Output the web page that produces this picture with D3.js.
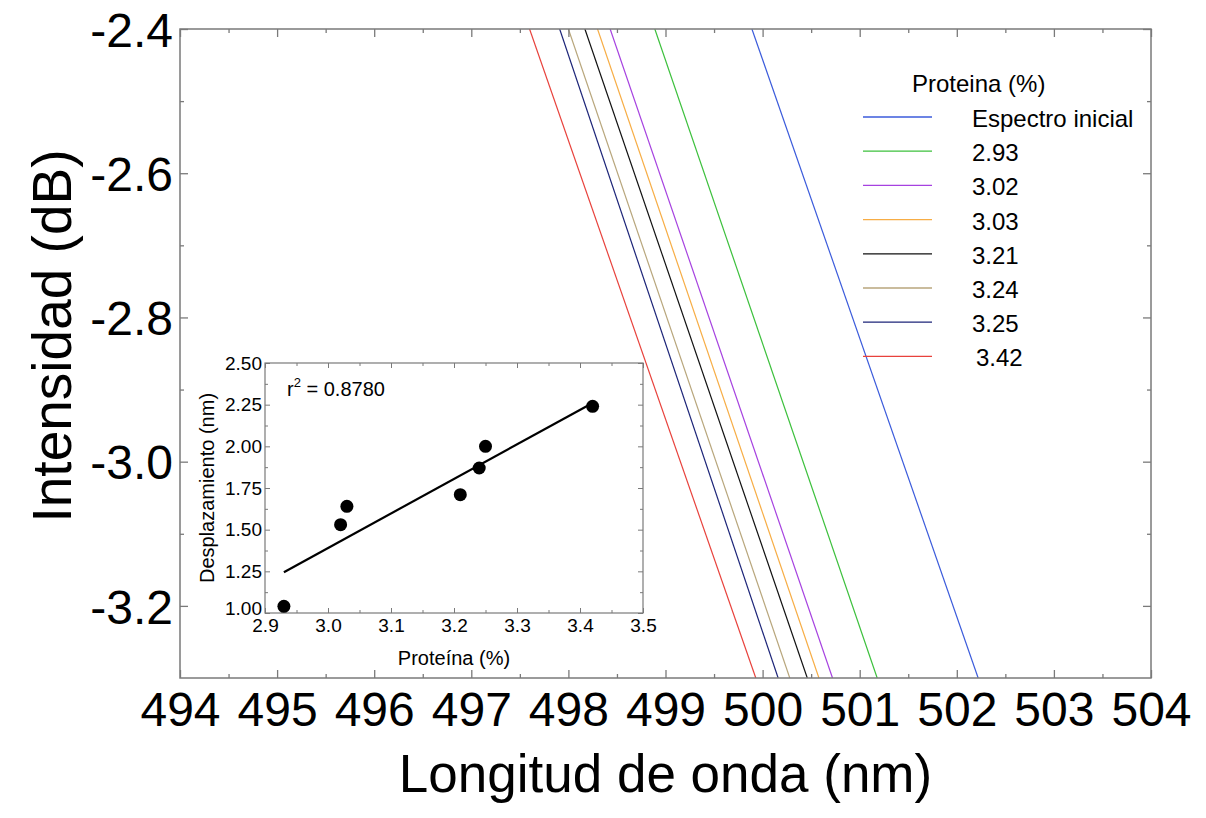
<!DOCTYPE html>
<html>
<head>
<meta charset="utf-8">
<script src="https://cdn.jsdelivr.net/npm/d3@7"></script>
<style>
  html, body { margin: 0; padding: 0; background: #fff; }
  svg { display: block; font-family: "Liberation Sans", Arial, Helvetica, sans-serif; }
</style>
</head>
<body>
<svg id="chart" width="1206" height="818"></svg>
<script>
// ---------------- data ----------------
const wavelengthTicks = [494, 495, 496, 497, 498, 499, 500, 501, 502, 503, 504];
const intensityTicks = [-2.4, -2.6, -2.8, -3.0, -3.2];
const intensityTickLabels = ["-2.4", "-2.6", "-2.8", "-3.0", "-3.2"];
const seriesNames = ["Espectro inicial", "2.93", "3.02", "3.03", "3.21", "3.24", "3.25", "3.42"];
const seriesColors = ["#3b5bdb", "#3cc03c", "#a642e0", "#f7ad45", "#111111", "#b8a67c", "#1c2478", "#e8423c"];
// intensity levels (dB) at which each spectrum edge was read
const intensityLevels = [-2.4, -3.3];
// wavelength (nm) of each spectrum at those intensity levels
const wavelengthAtTop    = [499.89, 498.89, 498.43, 498.30, 498.17, 498.00, 497.91, 497.60];
const wavelengthAtBottom = [502.22, 501.18, 500.72, 500.58, 500.46, 500.28, 500.16, 499.93];

// inset
const proteinTicks = [2.9, 3.0, 3.1, 3.2, 3.3, 3.4, 3.5];
const shiftTicks = [1.00, 1.25, 1.50, 1.75, 2.00, 2.25, 2.50];
const proteinValues = [2.93, 3.02, 3.03, 3.21, 3.24, 3.25, 3.42];
const shiftValues   = [1.04, 1.53, 1.64, 1.71, 1.87, 2.00, 2.24];
const fitProtein = [2.93, 3.42];
const fitShift   = [1.245, 2.26];
const r2Label = "0.8780";

// ---------------- layout ----------------
const svg = d3.select("#chart");
const M = { left: 180, right: 1151, top: 29, bottom: 678 };
const x = d3.scaleLinear().domain([494, 504]).range([M.left, M.right]);
const y = d3.scaleLinear().domain([-3.3, -2.4]).range([M.bottom, M.top]);
const frameColor = "#7a7a7a";
const FONT = "Liberation Sans, Arial, sans-serif";

// clip
svg.append("defs").append("clipPath").attr("id", "plotClip")
  .append("rect").attr("x", M.left).attr("y", M.top)
  .attr("width", M.right - M.left).attr("height", M.bottom - M.top);

// spectra lines
const series = seriesNames.map((name, i) => ({
  name, color: seriesColors[i],
  points: [[wavelengthAtTop[i], intensityLevels[0]], [wavelengthAtBottom[i], intensityLevels[1]]]
}));
const line = d3.line().x(d => x(d[0])).y(d => y(d[1]));
svg.append("g").attr("clip-path", "url(#plotClip)")
  .selectAll("path").data(series).join("path")
  .attr("d", d => line(d.points))
  .attr("fill", "none").attr("stroke", d => d.color).attr("stroke-width", 1.2);

// axes helper
function styleAxis(g) {
  g.select(".domain").remove();
  g.selectAll(".tick line").attr("stroke", frameColor).attr("stroke-width", 1.3);
}
const minorX = d3.range(494.5, 504, 1);
const minorY = [-2.5, -2.7, -2.9, -3.1];

// bottom axis
const gxB = svg.append("g").attr("transform", `translate(0,${M.bottom})`)
  .call(d3.axisBottom(x).tickValues(wavelengthTicks).tickSize(-8).tickPadding(14).tickFormat(d3.format("d")));
styleAxis(gxB);
gxB.selectAll("text").attr("font-size", 48).attr("fill", "#000").attr("font-family", FONT);
svg.append("g").attr("transform", `translate(0,${M.bottom})`)
  .call(d3.axisBottom(x).tickValues(minorX).tickSize(-4).tickFormat("")).call(styleAxis);
// top axis
svg.append("g").attr("transform", `translate(0,${M.top})`)
  .call(d3.axisTop(x).tickValues(wavelengthTicks).tickSize(-8).tickFormat("")).call(styleAxis);
svg.append("g").attr("transform", `translate(0,${M.top})`)
  .call(d3.axisTop(x).tickValues(minorX).tickSize(-4).tickFormat("")).call(styleAxis);
// left axis
const gyL = svg.append("g").attr("transform", `translate(${M.left},0)`)
  .call(d3.axisLeft(y).tickValues(intensityTicks).tickSize(-8).tickPadding(7)
    .tickFormat((d, i) => intensityTickLabels[i]));
styleAxis(gyL);
gyL.selectAll("text").attr("font-size", 48).attr("fill", "#000").attr("dy", "0.36em")
  .attr("font-family", FONT);
svg.append("g").attr("transform", `translate(${M.left},0)`)
  .call(d3.axisLeft(y).tickValues(minorY).tickSize(-4).tickFormat("")).call(styleAxis);
// right axis
svg.append("g").attr("transform", `translate(${M.right},0)`)
  .call(d3.axisRight(y).tickValues(intensityTicks).tickSize(-8).tickFormat("")).call(styleAxis);
svg.append("g").attr("transform", `translate(${M.right},0)`)
  .call(d3.axisRight(y).tickValues(minorY).tickSize(-4).tickFormat("")).call(styleAxis);

// frame
svg.append("rect").attr("x", M.left).attr("y", M.top)
  .attr("width", M.right - M.left).attr("height", M.bottom - M.top)
  .attr("fill", "none").attr("stroke", frameColor).attr("stroke-width", 1.5);

// axis titles
svg.append("text").attr("x", (M.left + M.right) / 2).attr("y", 792)
  .attr("text-anchor", "middle").attr("font-size", 53).text("Longitud de onda (nm)");
svg.append("text").attr("transform", `translate(71,336) rotate(-90)`)
  .attr("text-anchor", "middle").attr("font-size", 55).text("Intensidad (dB)");

// legend
const legend = svg.append("g");
legend.append("text").attr("x", 912).attr("y", 92).attr("font-size", 24).text("Proteina (%)");
const legY = i => 117 + i * 34.2;
legend.selectAll("line.leg").data(series).join("line").attr("class", "leg")
  .attr("x1", 863).attr("x2", 932).attr("y1", (d, i) => legY(i)).attr("y2", (d, i) => legY(i))
  .attr("stroke", d => d.color).attr("stroke-width", 1.3);
legend.selectAll("text.leg").data(series).join("text").attr("class", "leg")
  .attr("x", (d, i) => i === 7 ? 976 : 972).attr("y", (d, i) => legY(i) + 10)
  .attr("font-size", 24).text(d => d.name);

// ---------------- inset ----------------
const I = { left: 265, right: 643, top: 363, bottom: 613 };
const xi = d3.scaleLinear().domain([2.9, 3.5]).range([I.left, I.right]);
const yi = d3.scaleLinear().domain([1.0, 2.5]).range([I.bottom, I.top]);
const inset = svg.append("g");
inset.append("rect").attr("x", I.left).attr("y", I.top)
  .attr("width", I.right - I.left).attr("height", I.bottom - I.top).attr("fill", "#fff");
const minorXi = [2.95, 3.05, 3.15, 3.25, 3.35, 3.45];
const minorYi = [1.125, 1.375, 1.625, 1.875, 2.125, 2.375];
function styleInset(g) {
  g.select(".domain").remove();
  g.selectAll(".tick line").attr("stroke", frameColor).attr("stroke-width", 1);
}
const gxi = inset.append("g").attr("transform", `translate(0,${I.bottom})`)
  .call(d3.axisBottom(xi).tickValues(proteinTicks).tickSize(-5).tickPadding(6).tickFormat(d3.format(".1f")));
styleInset(gxi);
gxi.selectAll("text").attr("font-size", 19).attr("fill", "#000").attr("font-family", FONT);
inset.append("g").attr("transform", `translate(0,${I.bottom})`)
  .call(d3.axisBottom(xi).tickValues(minorXi).tickSize(-3).tickFormat("")).call(styleInset);
inset.append("g").attr("transform", `translate(0,${I.top})`)
  .call(d3.axisTop(xi).tickValues(proteinTicks).tickSize(-5).tickFormat("")).call(styleInset);
inset.append("g").attr("transform", `translate(0,${I.top})`)
  .call(d3.axisTop(xi).tickValues(minorXi).tickSize(-3).tickFormat("")).call(styleInset);
const gyi = inset.append("g").attr("transform", `translate(${I.left},0)`)
  .call(d3.axisLeft(yi).tickValues(shiftTicks).tickSize(-5).tickPadding(3).tickFormat(d3.format(".2f")));
styleInset(gyi);
gyi.selectAll("text").attr("font-size", 19).attr("fill", "#000").attr("font-family", FONT)
  .attr("dy", d => d === 1.0 ? "0.1em" : "0.32em");
inset.append("g").attr("transform", `translate(${I.left},0)`)
  .call(d3.axisLeft(yi).tickValues(minorYi).tickSize(-3).tickFormat("")).call(styleInset);
inset.append("g").attr("transform", `translate(${I.right},0)`)
  .call(d3.axisRight(yi).tickValues(shiftTicks).tickSize(-5).tickFormat("")).call(styleInset);
inset.append("g").attr("transform", `translate(${I.right},0)`)
  .call(d3.axisRight(yi).tickValues(minorYi).tickSize(-3).tickFormat("")).call(styleInset);
inset.append("rect").attr("x", I.left).attr("y", I.top)
  .attr("width", I.right - I.left).attr("height", I.bottom - I.top)
  .attr("fill", "none").attr("stroke", frameColor).attr("stroke-width", 1.2);

// fit line
inset.append("line")
  .attr("x1", xi(fitProtein[0])).attr("y1", yi(fitShift[0]))
  .attr("x2", xi(fitProtein[1])).attr("y2", yi(fitShift[1]))
  .attr("stroke", "#000").attr("stroke-width", 2.2);
// points
inset.selectAll("circle").data(proteinValues).join("circle")
  .attr("cx", d => xi(d)).attr("cy", (d, i) => yi(shiftValues[i])).attr("r", 6.5).attr("fill", "#000");

// r2 label
const r2 = inset.append("text").attr("x", 287).attr("y", 396).attr("font-size", 20);
r2.append("tspan").text("r");
r2.append("tspan").attr("font-size", 13).attr("dy", -9).text("2");
r2.append("tspan").attr("dy", 9).text(" = " + r2Label);

// inset titles
inset.append("text").attr("x", (I.left + I.right) / 2).attr("y", 665)
  .attr("text-anchor", "middle").attr("font-size", 20).text("Proteína (%)");
inset.append("text").attr("transform", `translate(214,${(I.top + I.bottom) / 2}) rotate(-90)`)
  .attr("text-anchor", "middle").attr("font-size", 20).text("Desplazamiento (nm)");
</script>
</body>
</html>
